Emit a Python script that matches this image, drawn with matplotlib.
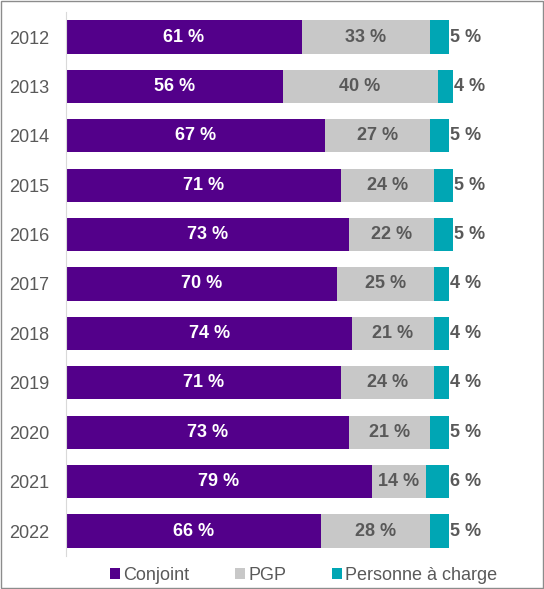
import matplotlib.pyplot as plt
import numpy as np

plt.rcParams['font.family'] = ['Liberation Sans', 'DejaVu Sans']

years = ['2012', '2013', '2014', '2015', '2016', '2017', '2018', '2019', '2020', '2021', '2022']
conjoint = [61, 56, 67, 71, 73, 70, 74, 71, 73, 79, 66]
pgp = [33, 40, 27, 24, 22, 25, 21, 24, 21, 14, 28]
charge = [5, 4, 5, 5, 5, 4, 4, 4, 5, 6, 5]

c_purple = '#53008a'
c_gray = '#c8c8c8'
c_teal = '#00a6b4'
txt = '#595959'
fs = 13

fig = plt.figure(figsize=(5.44, 5.89), dpi=100)
# axes: left edge at 66 px, 387 px per 100 %
ax = fig.add_axes([66/544, 1 - 555.7/589, 464/544, 543.4/589])

y = np.arange(len(years))
conj = np.array(conjoint) / 100
pg = np.array(pgp) / 100
ch = np.array(charge) / 100
h = 0.67

ax.barh(y, conj, height=h, color=c_purple, label='Conjoint')
ax.barh(y, pg, left=conj, height=h, color=c_gray, label='PGP')
ax.barh(y, ch, left=conj + pg, height=h, color=c_teal, label='Personne à charge')

for i in range(len(years)):
    ax.text(conj[i] / 2, y[i], f'{conjoint[i]} %', color='white', fontsize=fs,
            fontweight='bold', ha='center', va='center')
    ax.text(conj[i] + pg[i] / 2, y[i], f'{pgp[i]} %', color=txt, fontsize=fs,
            fontweight='bold', ha='center', va='center')
    ax.text(conj[i] + pg[i] + ch[i] + 0.002, y[i], f'{charge[i]} %', color=txt,
            fontsize=fs, fontweight='bold', ha='left', va='center')

ax.set_xlim(0, 464/387)
ax.set_ylim(len(years) - 0.5, -0.5)
ax.set_yticks(y)
ax.set_yticklabels(years, fontsize=fs, color=txt)
ax.set_xticks([])
ax.tick_params(axis='y', length=0, pad=12)
for s in ['top', 'right', 'bottom']:
    ax.spines[s].set_visible(False)
ax.spines['left'].set_color('#d9d9d9')

fig.legend(loc='center', bbox_to_anchor=(303.5/544, 1 - 575/589), ncol=3, frameon=False,
           fontsize=fs, handlelength=0.55, handleheight=0.55, handletextpad=0.17,
           columnspacing=2.55, labelcolor=txt)

fig.patches.append(plt.Rectangle((0.001, 0.001), 0.998, 0.998, transform=fig.transFigure,
                                 fill=False, edgecolor='#8c8c8c', linewidth=1))

fig.savefig('out.png', dpi=100)
